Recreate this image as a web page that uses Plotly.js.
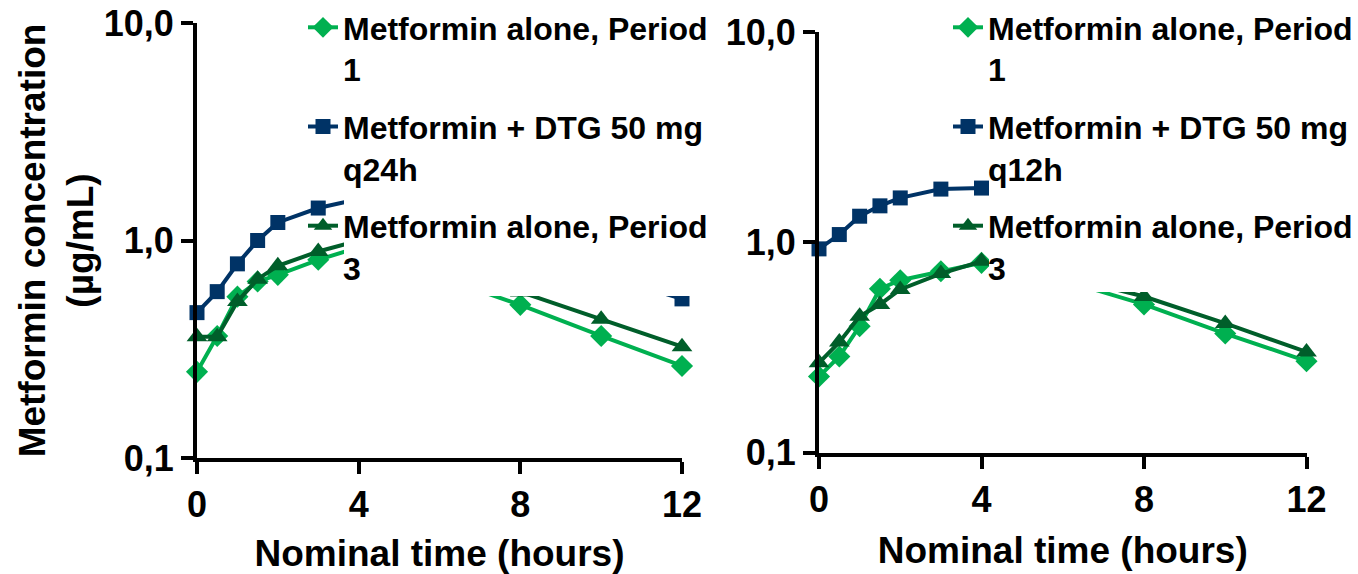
<!DOCTYPE html>
<html><head><meta charset="utf-8">
<script src="https://cdn.plot.ly/plotly-3.0.1.min.js"></script>
<style>html,body{margin:0;padding:0;background:#fff}#chart{width:1358px;height:574px}</style>
</head><body><div id="chart"></div>
<script>
// ---- data ----
const timeHours = [0, 0.5, 1, 1.5, 2, 3, 4, 6, 8, 10, 12];

// Left panel: DTG 50 mg q24h
const q24AlonePeriod1 = [0.249, 0.364, 0.552, 0.648, 0.695, 0.815, 0.93, 0.68, 0.506, 0.364, 0.265];
const q24WithDTG      = [0.466, 0.582, 0.781, 1.00, 1.21, 1.41, 1.55, 1.20, 0.90, 0.695, 0.539];
const q24AlonePeriod3 = [0.361, 0.361, 0.524, 0.664, 0.765, 0.89, 1.00, 0.78, 0.58, 0.435, 0.325];

// Right panel: DTG 50 mg q12h
const q12AlonePeriod1 = [0.230, 0.286, 0.399, 0.601, 0.660, 0.728, 0.798, 0.66, 0.506, 0.368, 0.272];
const q12WithDTG      = [0.93, 1.088, 1.33, 1.49, 1.625, 1.79, 1.81, 1.50, 1.25, 1.05, 0.90];
const q12AlonePeriod3 = [0.267, 0.335, 0.445, 0.506, 0.596, 0.710, 0.812, 0.69, 0.552, 0.411, 0.301];

const namesLeft  = ['Metformin alone, Period<br>1', 'Metformin + DTG 50 mg<br>q24h', 'Metformin alone, Period<br>3'];
const namesRight = ['Metformin alone, Period<br>1', 'Metformin + DTG 50 mg<br>q12h', 'Metformin alone, Period<br>3'];

const xTickVals = [0, 4, 8, 12];
const xTickText = ['0', '4', '8', '12'];
const yTickVals = [0.1, 1, 10];
const yTickText = ['0,1', '1,0', '10,0'];

const xTitle = 'Nominal time (hours)';
const yTitle = 'Metformin concentration<br>(µg/mL)';

// ---- styles ----
const FONT = 'Liberation Sans, Arial, sans-serif';
const styles = [
  {color: '#00B050', symbol: 'diamond', size: 17},
  {color: '#003366', symbol: 'square', size: 15},
  {color: '#005E2A', symbol: 'triangle-up', size: 18}
];

function makeTraces(seriesList, names, xa, ya, legendId, groupPrefix) {
  return seriesList.map((vals, i) => ({
    x: timeHours, y: vals, xaxis: xa, yaxis: ya,
    type: 'scatter', mode: 'lines+markers', name: names[i],
    legend: legendId, legendgroup: groupPrefix + i,
    line: {color: styles[i].color, width: 4},
    marker: {color: styles[i].color, symbol: styles[i].symbol, size: styles[i].size, line: {width: 0}},
    cliponaxis: false
  }));
}

const data = [
  ...makeTraces([q24AlonePeriod1, q24WithDTG, q24AlonePeriod3], namesLeft, 'x', 'y', 'legend', 'L'),
  ...makeTraces([q12AlonePeriod1, q12WithDTG, q12AlonePeriod3], namesRight, 'x2', 'y2', 'legend2', 'R')
];

const W = 1358, H = 574;
const px = v => v / W;
const py = v => (H - v) / H;

function xAxis(domain, anchor) {
  return {
    domain: domain, anchor: anchor, range: [0, 12],
    tickmode: 'array', tickvals: xTickVals, ticktext: xTickText,
    showline: true, linecolor: '#000', linewidth: 4,
    ticks: 'outside', ticklen: 12, tickwidth: 4, tickcolor: '#000',
    showgrid: false, zeroline: false,
    tickfont: {family: FONT, size: 36, color: '#000', weight: 'bold'},
    title: {text: xTitle, font: {family: FONT, size: 37, color: '#000', weight: 'bold'}, standoff: 19},
    automargin: false
  };
}
function yAxis(domain, anchor, withTitle) {
  const ax = {
    domain: domain, anchor: anchor, type: 'log', range: [-1, 1],
    tickmode: 'array', tickvals: yTickVals, ticktext: yTickText,
    showline: true, linecolor: '#000', linewidth: 4,
    ticks: 'outside', ticklen: 12, tickwidth: 4, tickcolor: '#000',
    showgrid: false, zeroline: false,
    tickfont: {family: FONT, size: 36, color: '#000', weight: 'bold'},
    automargin: false
  };
  if (withTitle) ax.title = {text: yTitle, font: {family: FONT, size: 37, color: '#000', weight: 'bold'}, standoff: 0};
  return ax;
}

function legendBox(xpos) {
  return {
    x: xpos, y: 1.0, xanchor: 'left', yanchor: 'top',
    bgcolor: 'rgba(0,0,0,0)', borderwidth: 0,
    font: {family: FONT, size: 32, color: '#000', weight: 'bold'},
    valign: 'top', traceorder: 'grouped', tracegroupgap: 13
  };
}

const layout = {
  width: W, height: H,
  margin: {l: 0, r: 0, t: 0, b: 0},
  paper_bgcolor: '#fff', plot_bgcolor: 'rgba(0,0,0,0)',
  font: {family: FONT, color: '#000'},
  xaxis: xAxis([px(197), px(682)], 'y'),
  yaxis: yAxis([py(458), py(23)], 'x', true),
  xaxis2: xAxis([px(819), px(1306.5)], 'y2'),
  yaxis2: yAxis([py(452.5), py(32)], 'x2', false),
  legend: legendBox(px(303)),
  legend2: legendBox(px(948)),
  shapes: [
    {type: 'rect', xref: 'paper', yref: 'paper', x0: px(344), x1: px(712), y0: py(296), y1: 1,
     fillcolor: '#fff', line: {width: 0}, layer: 'above'},
    {type: 'rect', xref: 'paper', yref: 'paper', x0: px(989), x1: 1, y0: py(292), y1: 1,
     fillcolor: '#fff', line: {width: 0}, layer: 'above'}
  ],
  showlegend: true
};

Plotly.newPlot('chart', data, layout, {displayModeBar: false, staticPlot: true});
</script>
</body></html>
